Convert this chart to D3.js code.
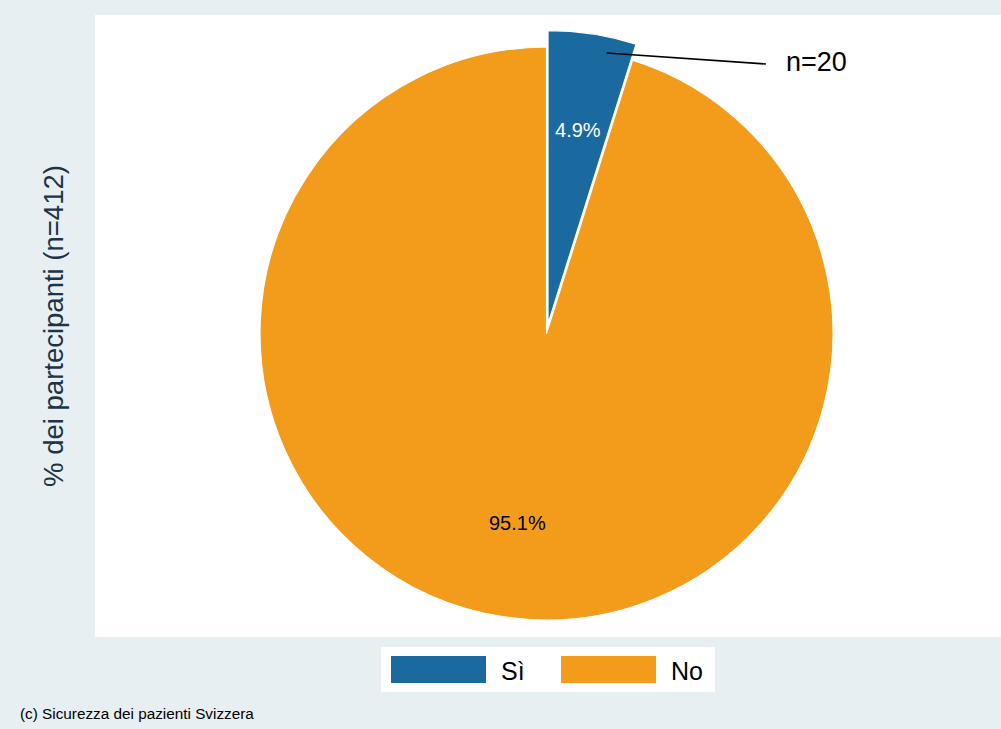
<!DOCTYPE html>
<html>
<head>
<meta charset="utf-8">
<script src="https://cdn.jsdelivr.net/npm/d3@7"></script>
<style>
  html, body { margin: 0; padding: 0; background: #e8eff2; }
  svg { display: block; font-family: "Liberation Sans", Arial, sans-serif; }
</style>
</head>
<body>
<svg id="chart" width="1001" height="729"></svg>
<script>
// Risposte: Sì / No (n = 412)
const categories = ["Sì", "No"];
const counts = [20, 392];
const colors = ["#1a6aa0", "#f39c1c"];
const yTitle = "% dei partecipanti (n=412)";
const callout = "n=20";
const footnote = "(c) Sicurezza dei pazienti Svizzera";

const W = 1001, H = 729;
const svg = d3.select("#chart");

svg.append("rect").attr("width", W).attr("height", H).attr("fill", "#e8eff2");
// plot region
svg.append("rect").attr("x", 95).attr("y", 15).attr("width", W - 95).attr("height", 622).attr("fill", "#ffffff");

const total = d3.sum(counts);
const data = categories.map((c, i) => ({ cat: c, n: counts[i], pct: counts[i] / total * 100, color: colors[i] }));

const cx = 546.5, cy = 333.5, R = 286.5;
const explode = 10;   // offset of the highlighted slice
const Rex = 293;      // radius of the highlighted slice

const pie = d3.pie().sort(null).value(d => d.n);
const arcs = pie(data);

const g = svg.append("g").attr("transform", `translate(${cx},${cy})`);
const fmt = d3.format(".1f");

arcs.forEach((a, i) => {
  const mid = (a.startAngle + a.endAngle) / 2;
  const off = i === 0 ? explode : 0;
  const r = i === 0 ? Rex : R;
  const dx = Math.sin(mid) * off, dy = -Math.cos(mid) * off;
  const arc = d3.arc().innerRadius(0).outerRadius(r);
  const sg = g.append("g").attr("transform", `translate(${dx},${dy})`);
  sg.append("path")
    .attr("d", arc(a))
    .attr("fill", a.data.color)
    .attr("stroke", "#ffffff")
    .attr("stroke-width", 1.2)
    .attr("stroke-linejoin", "round");
  const lab = d3.arc().innerRadius(r * 0.67).outerRadius(r * 0.67);
  const [lx, ly] = lab.centroid(a);
  sg.append("text")
    .attr("x", lx).attr("y", ly)
    .attr("text-anchor", "middle")
    .attr("dominant-baseline", "central")
    .attr("font-size", 20)
    .attr("fill", i === 0 ? "#ffffff" : "#000000")
    .text(fmt(a.data.pct) + "%");
});

// callout for the highlighted slice
{
  const a = arcs[0];
  const mid = (a.startAngle + a.endAngle) / 2;
  const ox = Math.sin(mid) * explode, oy = -Math.cos(mid) * explode;
  const ang = a.startAngle + 0.7 * (a.endAngle - a.startAngle);
  const [px, py] = d3.pointRadial(ang, Rex * 0.945);
  const sx = cx + ox + px, sy = cy + oy + py;
  const ex = 766, ey = 64;
  svg.append("line")
    .attr("x1", sx).attr("y1", sy).attr("x2", ex).attr("y2", ey)
    .attr("stroke", "#000").attr("stroke-width", 1.6);
  svg.append("text")
    .attr("x", ex + 20).attr("y", ey - 2)
    .attr("dominant-baseline", "central")
    .attr("font-size", 27)
    .attr("fill", "#000")
    .text(callout);
}

// y-axis title
svg.append("text")
  .attr("transform", `translate(63,326) rotate(-90)`)
  .attr("text-anchor", "middle")
  .attr("font-size", 27.5)
  .attr("fill", "#1c3448")
  .text(yTitle);

// legend
const leg = svg.append("g").attr("transform", "translate(381,647)");
leg.append("rect").attr("width", 334).attr("height", 45).attr("fill", "#ffffff");
const legX = [10, 180];
data.forEach((d, i) => {
  leg.append("rect")
    .attr("x", legX[i]).attr("y", 9).attr("width", 95).attr("height", 27)
    .attr("fill", d.color);
  leg.append("text")
    .attr("x", legX[i] + 110).attr("y", 24)
    .attr("dominant-baseline", "central")
    .attr("font-size", 25)
    .attr("fill", "#000")
    .text(d.cat);
});

// footnote
svg.append("text")
  .attr("x", 20).attr("y", 719)
  .attr("font-size", 15.3)
  .attr("fill", "#000")
  .text(footnote);
</script>
</body>
</html>
